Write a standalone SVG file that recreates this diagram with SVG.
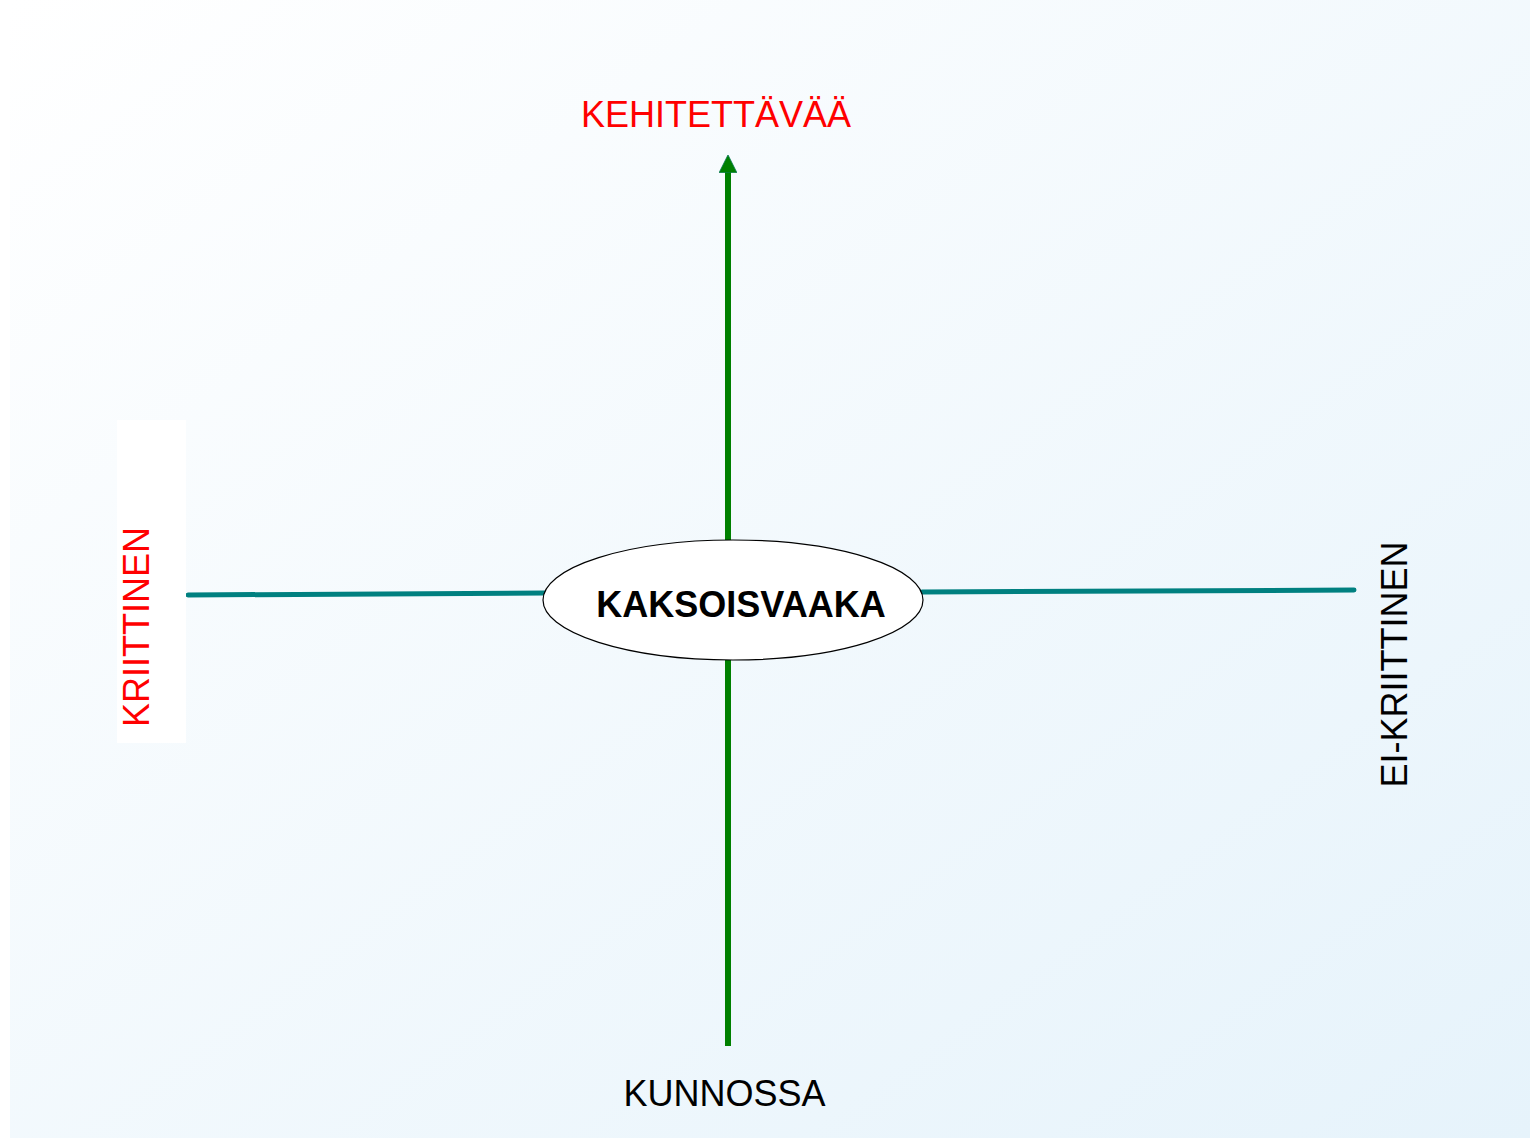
<svg xmlns="http://www.w3.org/2000/svg" width="1530" height="1139" viewBox="0 0 1530 1139">
  <defs>
    <linearGradient id="bg" x1="0" y1="0" x2="1" y2="1">
      <stop offset="0" stop-color="#ffffff"/>
      <stop offset="1" stop-color="#e6f3fb"/>
    </linearGradient>
    <marker id="arrow" viewBox="0 0 10 10" refX="1" refY="5" markerWidth="3" markerHeight="3" orient="auto" markerUnits="strokeWidth">
      <path d="M0,0 L10,5 L0,10 Z" fill="#008000" stroke="#0a7a5a" stroke-width="0.4"/>
    </marker>
    <style>
      .lbl { font-family: "Liberation Sans", Arial, sans-serif; font-size: 36px; }
      .red { fill: #ff0000; }
      .blk { fill: #000000; }
      .axis-v { stroke: #008000; stroke-width: 6; fill: none; }
      .axis-h { stroke: #008080; stroke-width: 5; fill: none; stroke-linecap: round; }
    </style>
  </defs>

  <!-- page background -->
  <rect x="0" y="0" width="1530" height="1139" fill="#ffffff"/>
  <rect x="10" y="0" width="1520" height="1138" fill="url(#bg)"/>

  <g id="connectors">
    <line class="axis-v" x1="728" y1="540" x2="728" y2="171" marker-end="url(#arrow)"/>
    <line class="axis-v" x1="728" y1="660" x2="728" y2="1046"/>
    <line class="axis-h" x1="188" y1="595" x2="545" y2="593"/>
    <line class="axis-h" x1="922" y1="592" x2="1354" y2="590"/>
  </g>

  <g id="center">
    <ellipse cx="733" cy="600" rx="190" ry="60" fill="#ffffff" stroke="#000000" stroke-width="1.2"/>
    <text class="lbl blk" x="741" y="617" text-anchor="middle" font-weight="bold">KAKSOISVAAKA</text>
  </g>

  <g id="top-label">
    <text class="lbl red" x="716" y="127" text-anchor="middle">KEHITETTÄVÄÄ</text>
  </g>

  <g id="bottom-label">
    <text class="lbl blk" x="724.5" y="1106" text-anchor="middle">KUNNOSSA</text>
  </g>

  <g id="left-label">
    <rect x="117" y="420" width="69" height="323" fill="#ffffff"/>
    <text class="lbl red" transform="translate(149,627) rotate(-90)" text-anchor="middle">KRIITTINEN</text>
  </g>

  <g id="right-label">
    <text class="lbl blk" transform="translate(1407,664.5) rotate(-90)" text-anchor="middle">EI-KRIITTINEN</text>
  </g>
</svg>
